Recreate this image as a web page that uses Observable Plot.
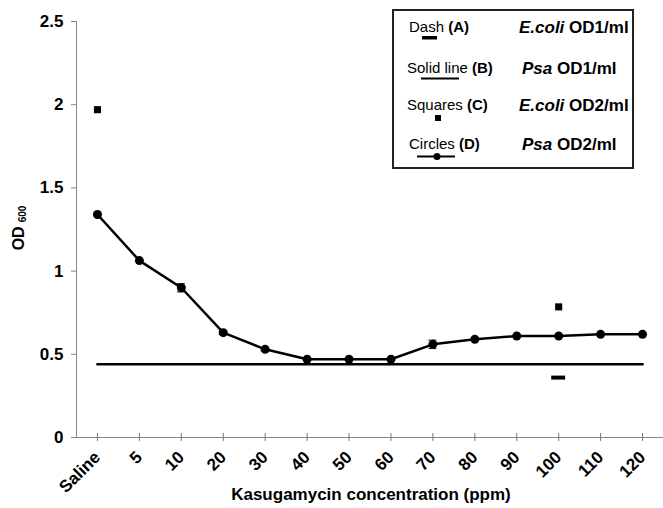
<!DOCTYPE html>
<html><head><meta charset="utf-8">
<script src="https://cdn.jsdelivr.net/npm/d3@7"></script>
<script src="https://cdn.jsdelivr.net/npm/@observablehq/plot@0.6"></script>
<style>
body{margin:0;background:#fff}
#chart svg{font-family:"Liberation Sans",Arial,sans-serif;}
</style>
</head><body><div id="chart"></div>
<script>
const categories = ["Saline","5","10","20","30","40","50","60","70","80","90","100","110","120"];
// Circles (D): Psa OD2/ml
const psaOD2 = [1.34,1.063,0.90,0.63,0.53,0.47,0.47,0.47,0.56,0.59,0.61,0.61,0.62,0.62];
const psaOD2Err = [0,0,0.025,0.01,0.01,0,0,0,0.025,0,0,0,0,0];
// Solid line (B): Psa OD1/ml
const psaOD1 = [0.44,0.44,0.44,0.44,0.44,0.44,0.44,0.44,0.44,0.44,0.44,0.44,0.44,0.44];
// Squares (C): E.coli OD2/ml
const ecoliOD2Cats = ["Saline","100"];
const ecoliOD2 = [1.97,0.785];
// Dash (A): E.coli OD1/ml
const ecoliOD1Cats = ["100"];
const ecoliOD1 = [0.36];
const yTicks = [0,0.5,1,1.5,2,2.5];

const circles = categories.map((c,i)=>({cat:c, v:psaOD2[i], e:psaOD2Err[i]}));
const errs = circles.filter(d=>d.e>0);
const solid = categories.map((c,i)=>({cat:c, v:psaOD1[i]}));
const squares = ecoliOD2Cats.map((c,i)=>({cat:c, v:ecoliOD2[i]}));
const dashes = ecoliOD1Cats.map((c,i)=>({cat:c, v:ecoliOD1[i]}));

const plot = Plot.plot({
  width:663, height:508,
  marginLeft:76, marginRight:0, marginTop:21, marginBottom:71,
  style:{fontFamily:'"Liberation Sans",Arial,sans-serif', fontWeight:"bold", color:"#000", background:"#fff"},
  x:{type:"band", domain:categories, padding:0, round:false, label:null},
  y:{domain:[0,2.5], label:null},
  marks:[
    Plot.frame({anchor:"left", stroke:"#888"}),
    Plot.frame({anchor:"bottom", stroke:"#888"}),
    Plot.axisY({ticks:yTicks, tickFormat:d=>String(d), tickSize:5, tickPadding:8, fontSize:17, stroke:"#888", fill:"#000", label:null}),
    Plot.axisX({tickSize:8, dy:-4, tickFormat:()=>"", stroke:"#777", label:null}),
    Plot.axisX({tickSize:0, tickPadding:17, tickRotate:-45, fontSize:17, fill:"#000", label:null}),
    Plot.line(solid, {x:"cat", y:"v", stroke:"#000", strokeWidth:2.5}),
    Plot.line(circles, {x:"cat", y:"v", stroke:"#000", strokeWidth:2.5}),
    Plot.ruleX(errs, {x:"cat", y1:d=>d.v-d.e, y2:d=>d.v+d.e, stroke:"#333", strokeWidth:1.2}),
    Plot.tickY(errs, {x:"cat", y:d=>d.v-d.e, stroke:"#333", insetLeft:17, insetRight:17, strokeWidth:1.2}),
    Plot.tickY(errs, {x:"cat", y:d=>d.v+d.e, stroke:"#333", insetLeft:17, insetRight:17, strokeWidth:1.2}),
    Plot.dot(circles, {x:"cat", y:"v", r:4.5, fill:"#000", stroke:null}),
    Plot.dot(squares, {x:"cat", y:"v", symbol:"square", r:4, fill:"#000", stroke:null}),
    Plot.tickY(dashes, {x:"cat", y:"v", stroke:"#000", strokeWidth:4, insetLeft:14, insetRight:14})
  ]
});
document.getElementById("chart").appendChild(plot);

const svg = d3.select(plot);
const ff = '"Liberation Sans",Arial,sans-serif';
// X axis title
svg.append("text").attr("x",371).attr("y",500).attr("text-anchor","middle")
  .attr("font-family",ff).attr("font-size",17).attr("font-weight","bold").attr("fill","#000")
  .text("Kasugamycin concentration (ppm)");
// Y axis title
const yt = svg.append("text").attr("transform","translate(24,228) rotate(-90)").attr("text-anchor","middle")
  .attr("font-family",ff).attr("font-weight","bold").attr("fill","#000");
yt.append("tspan").attr("font-size",16).text("OD");
yt.append("tspan").attr("font-size",10).attr("dx",4).attr("dy",2).text("600");

// Legend
const lg = svg.append("g").attr("font-family",ff).attr("fill","#000").attr("text-anchor","start");
lg.append("rect").attr("x",393).attr("y",10).attr("width",240).attr("height",158)
  .attr("fill","#fff").attr("stroke","#222").attr("stroke-width",2);
const legendRows = [
  {name:"Dash", code:"(A)", sp:"E.coli", rest:" OD1/ml", y:32, lx:409},
  {name:"Solid line", code:"(B)", sp:"Psa", rest:" OD1/ml", y:73, lx:407},
  {name:"Squares", code:"(C)", sp:"E.coli", rest:" OD2/ml", y:110, lx:407},
  {name:"Circles", code:"(D)", sp:"Psa", rest:" OD2/ml", y:149, lx:409}
];
legendRows.forEach(r=>{
  const t = lg.append("text").attr("x",r.lx).attr("y",r.y).attr("font-size",15).attr("text-anchor","start");
  t.append("tspan").attr("font-weight","normal").text(r.name+" ");
  t.append("tspan").attr("font-weight","bold").text(r.code);
  const t2 = lg.append("text").attr("x",r.sp==="Psa"?522:519).attr("y",r.y+1).attr("font-size",17).attr("font-weight","bold").attr("text-anchor","start");
  t2.append("tspan").attr("font-style","italic").text(r.sp);
  t2.append("tspan").text(r.rest);
});
lg.append("rect").attr("x",422).attr("y",36).attr("width",15).attr("height",3.5);
lg.append("line").attr("x1",421).attr("x2",459).attr("y1",78.5).attr("y2",78.5).attr("stroke","#000").attr("stroke-width",2);
lg.append("rect").attr("x",435).attr("y",115).attr("width",6).attr("height",6);
lg.append("line").attr("x1",417).attr("x2",455).attr("y1",156.5).attr("y2",156.5).attr("stroke","#000").attr("stroke-width",2);
lg.append("circle").attr("cx",437).attr("cy",156.5).attr("r",3.5);
</script>
</body></html>
